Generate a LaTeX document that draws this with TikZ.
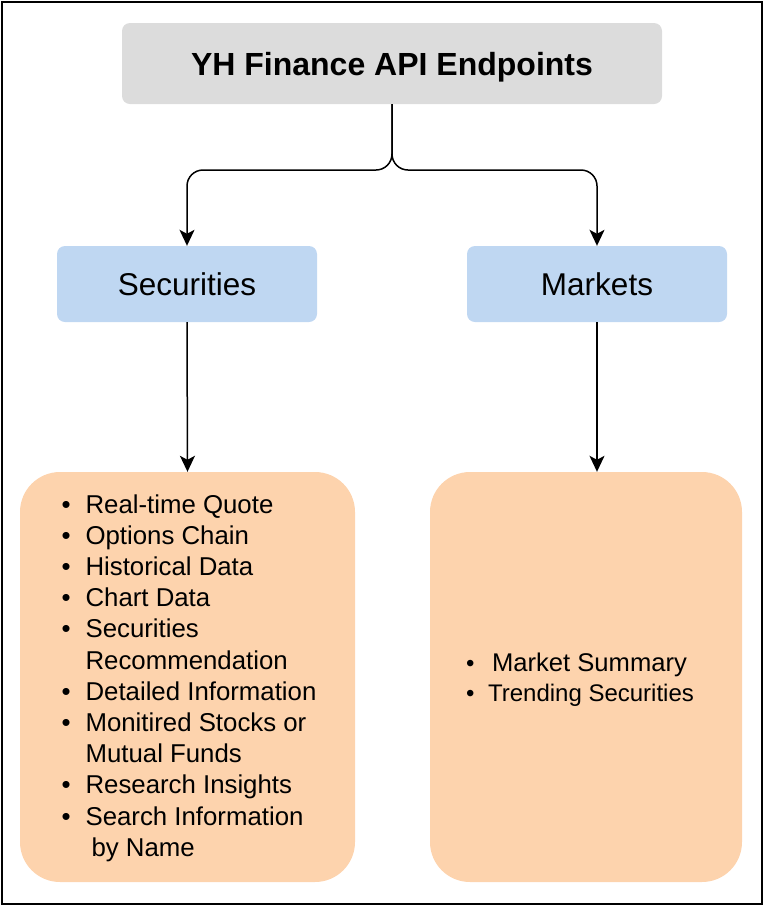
\documentclass[tikz,border=0pt]{standalone}
\usepackage{fontspec}
\setmainfont{Liberation Sans}
\usetikzlibrary{arrows.meta}
\definecolor{titlegray}{HTML}{DCDCDC}
\definecolor{catblue}{HTML}{BFD7F2}
\definecolor{listpeach}{HTML}{FDD3AD}
\newcommand{\bul}[1]{\makebox[#1][l]{•}}
\newcommand{\nobul}[1]{\makebox[#1][l]{}}
\begin{document}
\begin{tikzpicture}[x=1pt,y=-1pt,
  titlebox/.style={fill=titlegray, rounded corners=8pt, minimum width=540pt, minimum height=81pt, inner sep=0pt, text depth=0pt, font=\fontsize{32}{36}\selectfont\bfseries},
  catbox/.style={fill=catblue, rounded corners=8pt, minimum width=260pt, minimum height=76pt, inner sep=0pt, text depth=0pt, font=\fontsize{31.5}{36}\selectfont},
  listbox/.style={fill=listpeach, rounded corners=40pt, minimum height=410pt, inner sep=0pt},
  conn/.style={line width=1.5pt, -{Stealth[length=16pt,width=15pt,inset=4pt]}, rounded corners=16pt}
]
\useasboundingbox (0,0) rectangle (764,906);
\draw[line width=2pt] (2,2) rectangle (762,904);

\node[titlebox] (title) at (392,63.5) {YH Finance API Endpoints};
\node[catbox] (sec) at (187,284) {Securities};
\node[catbox] (mkt) at (597,284) {Markets};

\node[listbox, minimum width=335pt] (seclist) at (187.5,677) {};
\node[align=left, inner sep=0pt, font=\fontsize{25.8}{31.2}\selectfont] (sectext) at (189,678) {%
\bul{24pt}Real-time Quote\\
\bul{24pt}Options Chain\\
\bul{24pt}Historical Data\\
\bul{24pt}Chart Data\\
\bul{24pt}Securities\\
\nobul{24pt}Recommendation\\
\bul{24pt}Detailed Information\\
\bul{24pt}Monitired Stocks or\\
\nobul{24pt}Mutual Funds\\
\bul{24pt}Research Insights\\
\bul{24pt}Search Information\\
\nobul{24pt}\hspace{6pt}by Name};

\node[listbox, minimum width=312pt] (mktlist) at (586,677) {};
\node[align=left, inner sep=0pt, font=\fontsize{24}{30}\selectfont] (mkttext) at (580,680) {%
\bul{22pt}\hspace{4pt}{\fontsize{25.6}{30}\selectfont Market Summary}\\
\bul{22pt}Trending Securities};

\coordinate (split) at (392,170);
\draw[conn] (title.south) -- (split) -| (sec.north);
\draw[conn] (title.south) -- (split) -| (mkt.north);
\draw[conn] (sec.south) -- (seclist.north);
\draw[conn] (mkt.south) -- (mkt.south |- mktlist.north);
\end{tikzpicture}
\end{document}
